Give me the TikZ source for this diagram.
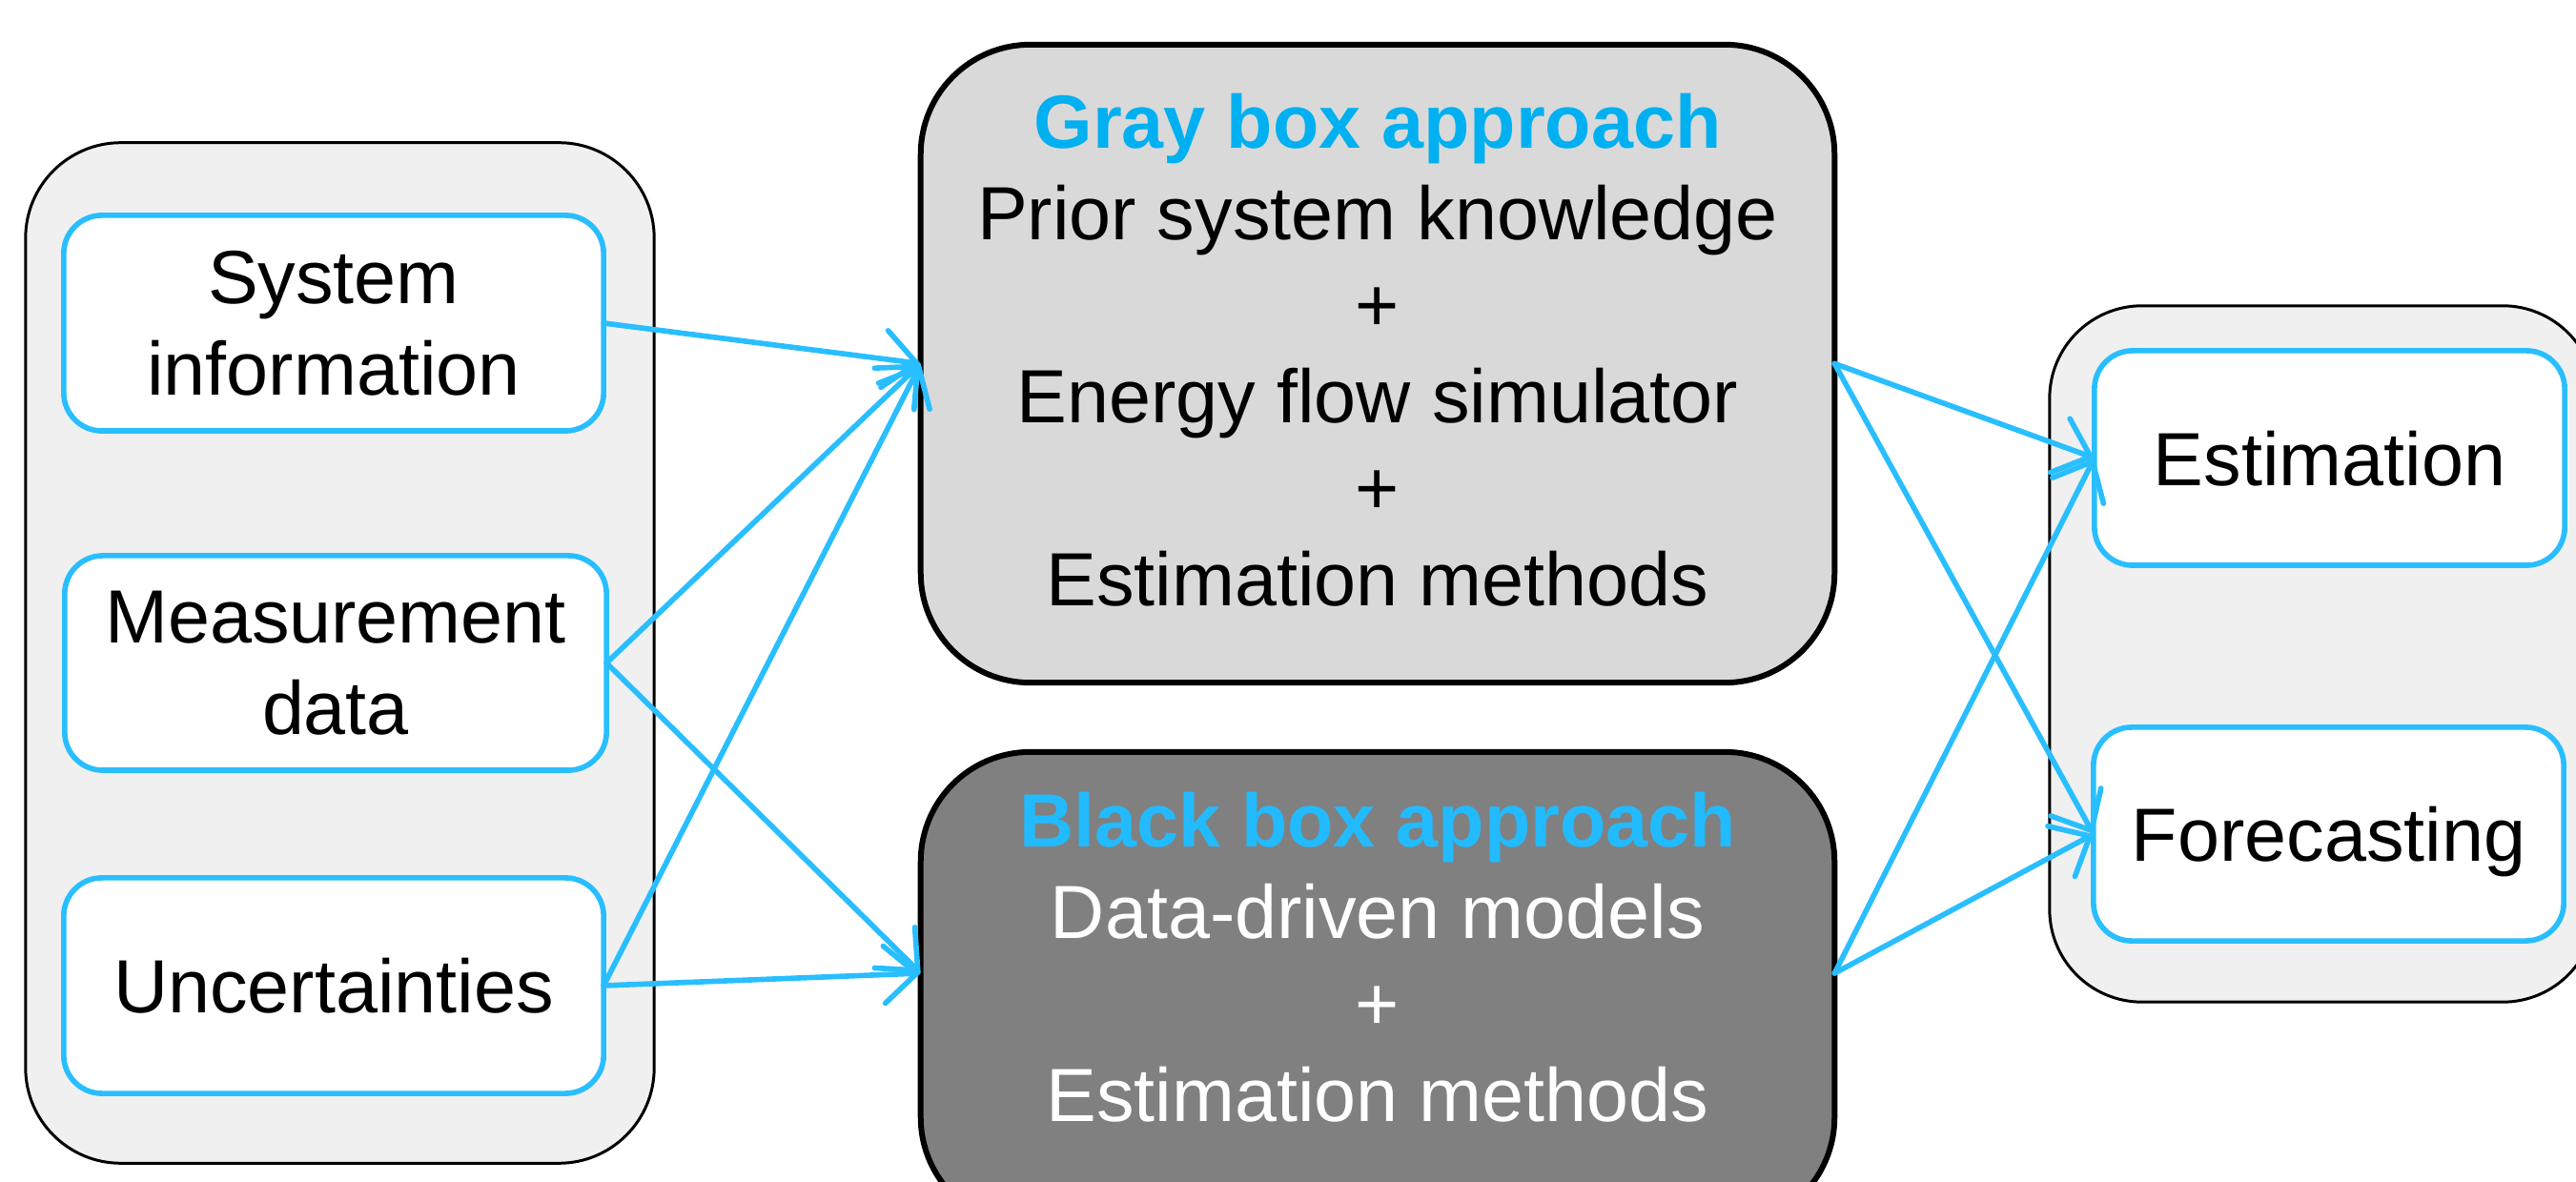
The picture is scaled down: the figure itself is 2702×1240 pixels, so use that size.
\documentclass[tikz,border=0pt]{standalone}
\usepackage{fontspec}
\setmainfont{Liberation Sans}
\usetikzlibrary{arrows.meta}
\definecolor{linkblue}{HTML}{29BEFF}
\definecolor{titleblue}{HTML}{00B0F0}
\definecolor{titleblueb}{HTML}{22BBFF}
\definecolor{groupfill}{HTML}{F0F0F0}
\definecolor{grayfill}{HTML}{D9D9D9}
\definecolor{blackfill}{HTML}{808080}
\begin{document}
\begin{tikzpicture}[x=0.01cm,y=-0.01cm,
  every node/.style={inner sep=0pt,outer sep=0pt},
  txt/.style={font=\fontsize{22.5}{27.3}\selectfont,align=center,text depth=0pt},
  group/.style={draw=black,line width=0.85pt,fill=groupfill,rounded corners=1cm},
  item/.style={txt,draw=linkblue,line width=1.6pt,fill=white,rounded corners=0.4cm},
  approach/.style={draw=black,line width=1.7pt,rounded corners=1.15cm},
  link/.style={draw=linkblue,line width=1.6pt,line cap=round,
    -{Straight Barb[length=0.34cm,width=0.6cm,line cap=round]}}
]
\useasboundingbox (0,0) rectangle (2702,1240);
\clip (0,0) rectangle (2702,1240);

% left group
\node[group,minimum width=6.59cm,minimum height=10.7cm] (lo) at (356.5,685) {};
\node[item,minimum width=5.66cm,minimum height=2.26cm] (si) at (350,339) {System\\information};
\node[item,minimum width=5.68cm,minimum height=2.25cm] (md) at (352,695.5) {Measurement\\data};
\node[item,minimum width=5.66cm,minimum height=2.26cm] (un) at (350,1034) {Uncertainties};

% approaches
\node[approach,fill=grayfill,minimum width=9.58cm,minimum height=6.69cm] (gb) at (1445,381.5) {};
\node[txt] (gbt) at (1445,367) {\textcolor{titleblue}{\bfseries Gray box approach}\\Prior system knowledge\\+\\Energy flow simulator\\+\\Estimation methods};
\node[approach,fill=blackfill,minimum width=9.58cm,minimum height=4.98cm] (bb) at (1445,1038) {};
\node[txt,text=white] (bbt) at (1445,1004) {\textcolor{titleblueb}{\bfseries Black box approach}\\Data-driven models\\+\\Estimation methods};

% right group
\node[group,rounded corners=0.97cm,minimum width=5.72cm,minimum height=7.3cm] (ro) at (2436,686) {};
\node[item,minimum width=4.93cm,minimum height=2.25cm] (es) at (2443.5,480.5) {Estimation};
\node[item,minimum width=4.93cm,minimum height=2.24cm] (fc) at (2442.5,875) {Forecasting};

% connectors
\draw[link] (si.east) -- (gb.west);
\draw[link] (md.east) -- (gb.west);
\draw[link] (un.east) -- (gb.west);
\draw[link] (md.east) -- ([yshift=0.17cm]bb.west);
\draw[link] (un.east) -- ([yshift=0.17cm]bb.west);
\draw[link] (gb.east) -- (es.west);
\draw[link] (gb.east) -- (fc.west);
\draw[link] ([yshift=0.17cm]bb.east) -- (es.west);
\draw[link] ([yshift=0.17cm]bb.east) -- (fc.west);
\end{tikzpicture}
\end{document}
